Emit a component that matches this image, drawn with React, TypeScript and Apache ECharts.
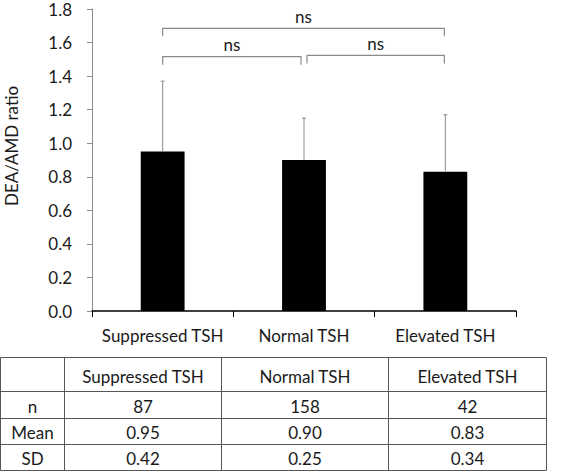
import React, { useEffect, useRef } from "react";
import * as echarts from "echarts";

// Groups and summary statistics
const categories = ["Suppressed TSH", "Normal TSH", "Elevated TSH"];
const nValues = [87, 158, 42];
const means = [0.95, 0.9, 0.83];
const sds = [0.42, 0.25, 0.34];

// Y axis scale
const yMin = 0;
const yMax = 1.8;
const yInterval = 0.2;

// Pairwise comparisons: [fromIndex, toIndex, bracket level]
const comparisonFrom = [0, 0, 1];
const comparisonTo = [2, 1, 2];
const comparisonLevel = [1.685, 1.516, 1.523];
const comparisonLabel = ["ns", "ns", "ns"];

// Summary table rows
const tableRowLabels = ["n", "Mean", "SD"];

const FONT = "Lato, 'Noto Sans', sans-serif";
const FONT_SIZE = 17;
const TEXT_COLOR = "#1a1a1a";
const GREY = "#8a8a8a";

function buildTable(): any[] {
  const colX = [0.5, 64.5, 221.5, 388.5, 546.5];
  const rowY = [357.5, 391.5, 418.5, 444.5, 470.5];
  const lineStyle = { stroke: "#555", lineWidth: 1 };
  const els: any[] = [];
  rowY.forEach((y) =>
    els.push({ type: "line", shape: { x1: colX[0], y1: y, x2: colX[colX.length - 1], y2: y }, style: lineStyle })
  );
  colX.forEach((x) =>
    els.push({ type: "line", shape: { x1: x, y1: rowY[0], x2: x, y2: rowY[rowY.length - 1] }, style: lineStyle })
  );
  const cell = (text: string, c: number, r: number) => ({
    type: "text",
    x: (colX[c] + colX[c + 1]) / 2,
    y: (rowY[r] + rowY[r + 1]) / 2 + (r === 0 ? 2 : 1),
    style: { text, align: "center", verticalAlign: "middle", fontSize: FONT_SIZE, fontFamily: FONT, fill: TEXT_COLOR },
  });
  categories.forEach((c, i) => els.push(cell(c, i + 1, 0)));
  const rows = [nValues.map((v) => String(v)), means.map((v) => v.toFixed(2)), sds.map((v) => v.toFixed(2))];
  tableRowLabels.forEach((lab, r) => {
    els.push(cell(lab, 0, r + 1));
    rows[r].forEach((t, i) => els.push(cell(t, i + 1, r + 1)));
  });
  return els;
}

export default function App() {
  const ref = useRef<HTMLDivElement>(null);

  useEffect(() => {
    document.body.style.margin = "0";
    const chart = echarts.init(ref.current!, null, { renderer: "svg" });

    const errorData = means.map((m, i) => [i, m, m + sds[i]]);
    const bracketData = comparisonFrom.map((f, i) => [f, comparisonTo[i], comparisonLevel[i], i]);

    chart.setOption({
      animation: false,
      backgroundColor: "#fff",
      grid: { left: 92, right: 48, top: 9, bottom: 162 },
      xAxis: {
        type: "category",
        data: categories,
        axisLine: { lineStyle: { color: "#000", width: 1.5 } },
        axisTick: { show: true, length: 6, lineStyle: { color: "#000", width: 1 } },
        axisLabel: {
          color: TEXT_COLOR,
          fontSize: FONT_SIZE,
          fontFamily: FONT,
          margin: 16,
          interval: 0,
          hideOverlap: false,
        },
      },
      yAxis: {
        type: "value",
        min: yMin,
        max: yMax,
        interval: yInterval,
        splitLine: { show: false },
        axisLine: { show: true, lineStyle: { color: GREY, width: 1 } },
        axisTick: { show: true, length: 5, lineStyle: { color: GREY } },
        axisLabel: {
          color: TEXT_COLOR,
          fontSize: FONT_SIZE,
          fontFamily: FONT,
          margin: 20,
          formatter: (v: number) => v.toFixed(1),
        },
      },
      graphic: [
        {
          type: "text",
          x: 11,
          y: 146,
          rotation: Math.PI / 2,
          style: {
            text: "DEA/AMD ratio",
            align: "center",
            verticalAlign: "middle",
            fontSize: FONT_SIZE,
            fontFamily: FONT,
            fill: TEXT_COLOR,
          },
        },
        ...buildTable(),
      ],
      series: [
        {
          type: "bar",
          data: means,
          barWidth: "31%",
          itemStyle: { color: "#000" },
          z: 2,
        },
        {
          type: "custom",
          data: errorData,
          z: 3,
          renderItem: (_p: any, api: any) => {
            const i = api.value(0);
            const base = api.coord([i, api.value(1)]);
            const top = api.coord([i, api.value(2)]);
            return {
              type: "group",
              children: [
                { type: "line", shape: { x1: base[0], y1: base[1], x2: top[0], y2: top[1] }, style: { stroke: GREY, lineWidth: 1 } },
                { type: "line", shape: { x1: top[0] - 2, y1: top[1], x2: top[0] + 2, y2: top[1] }, style: { stroke: GREY, lineWidth: 1 } },
              ],
            };
          },
        },
        {
          type: "custom",
          data: bracketData,
          z: 3,
          renderItem: (_p: any, api: any) => {
            const from = api.value(0);
            const to = api.value(1);
            const level = api.value(2);
            const idx = api.value(3);
            const a = api.coord([from, level]);
            const b = api.coord([to, level]);
            // leave a small gap where two brackets meet on the same bar
            const x1 = a[0] + (from === 1 ? 3 : 0);
            const x2 = b[0] - (to === 1 ? 3 : 1);
            const y = a[1];
            const drop = 8;
            const style = { stroke: GREY, lineWidth: 1.2, fill: "none" };
            return {
              type: "group",
              children: [
                { type: "polyline", shape: { points: [[x1, y + drop], [x1, y], [x2, y], [x2, y + drop]] }, style },
                {
                  type: "text",
                  x: (x1 + x2) / 2,
                  y: y - 12,
                  style: {
                    text: comparisonLabel[idx],
                    align: "center",
                    verticalAlign: "middle",
                    fontSize: FONT_SIZE,
                    fontFamily: FONT,
                    fill: TEXT_COLOR,
                  },
                },
              ],
            };
          },
        },
      ],
    });

    return () => chart.dispose();
  }, []);

  return <div ref={ref} style={{ width: 564, height: 473 }} />;
}
